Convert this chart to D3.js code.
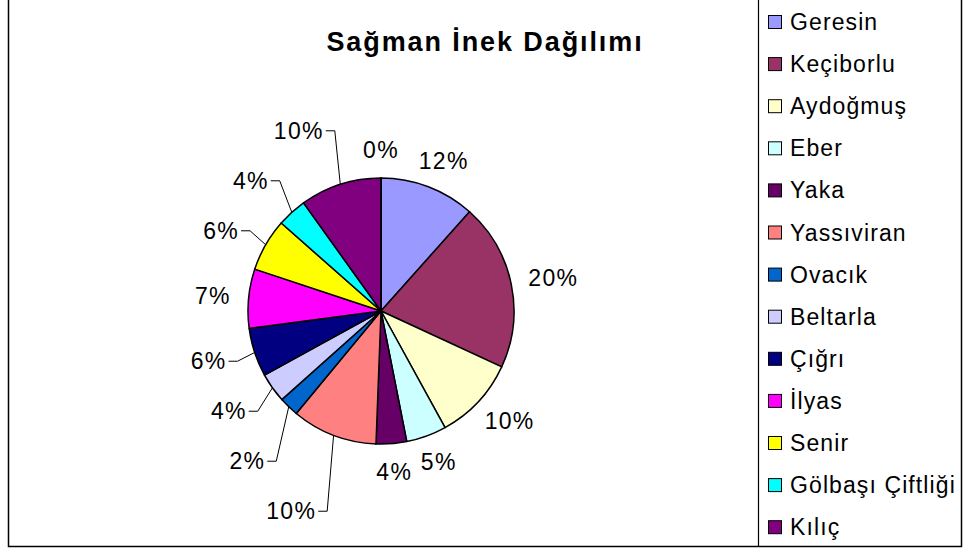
<!DOCTYPE html>
<html>
<head>
<meta charset="utf-8">
<script src="https://cdn.jsdelivr.net/npm/d3@7"></script>
<style>
  body { margin: 0; background: #fff; }
  svg { display: block; font-family: "Liberation Sans", Arial, sans-serif; }
</style>
</head>
<body>
<svg id="chart" width="965" height="549"></svg>
<script>
// köy bazında sağman inek payları (%)
const districts = ['Geresin', 'Keçiborlu', 'Aydoğmuş', 'Eber', 'Yaka', 'Yassıviran', 'Ovacık',
    'Beltarla', 'Çığrı', 'İlyas', 'Senir', 'Gölbaşı Çiftliği', 'Kılıç', ''];
const cows = [11.6, 20.3, 10.1, 4.9, 3.7, 10.4, 2.4, 3.6, 5.9, 7.2, 6.4, 3.6, 9.9, 0];
const colors = ['#9999FF', '#993366', '#FFFFCC', '#CCFFFF', '#660066', '#FF8080', '#0066CC',
    '#CCCCFF', '#000080', '#FF00FF', '#FFFF00', '#00FFFF', '#800080', '#800000'];

const svg = d3.select('#chart');
const cx = 381, cy = 311, r = 133;

// çerçeveler
svg.append('rect').attr('x', 8.5).attr('y', -2).attr('width', 953).attr('height', 548.5)
    .attr('fill', 'none').attr('stroke', '#000').attr('stroke-width', 1.5);
svg.append('line').attr('x1', 758.5).attr('x2', 758.5).attr('y1', 0).attr('y2', 546)
    .attr('stroke', '#000').attr('stroke-width', 1.2);

svg.append('text')
    .attr('x', 485).attr('y', 51)
    .attr('text-anchor', 'middle')
    .style('font-size', '27px').style('font-weight', 'bold')
    .style('letter-spacing', '1.9px')
    .text('Sağman İnek Dağılımı');

const data = districts.map((d, i) => ({ name: d, value: cows[i], color: colors[i] }));
const total = d3.sum(cows);

const pie = d3.pie().value(d => d.value).sort(null);
const arc = d3.arc().innerRadius(0).outerRadius(r);
const arcs = pie(data);

const g = svg.append('g').attr('transform', `translate(${cx},${cy})`);
g.selectAll('path')
    .data(arcs)
    .enter()
    .append('path')
    .attr('d', arc)
    .attr('fill', d => d.data.color)
    .attr('stroke', '#000')
    .attr('stroke-width', 1.5)
    .attr('stroke-linejoin', 'round');

// etiketler
const fmt = v => Math.round(v / total * 100) + '%';
const labelR = r + 18, boxH = 20;

const labels = g.selectAll('text.pct')
    .data(arcs)
    .enter()
    .append('text')
    .attr('class', 'pct')
    .style('font-size', '23px')
    .style('letter-spacing', '1.3px')
    .text(d => fmt(d.data.value));

let items = [];
labels.each(function (d) {
    let a = (d.startAngle + d.endAngle) / 2;
    let s = Math.sin(a), c = Math.cos(a);
    let w = this.getComputedTextLength();
    let px = labelR * s, py = -labelR * c;
    items.push({
        el: this, a: a, s: s, c: c, w: w, px: px, py: py,
        x: px + w / 2 * s, y: py - boxH / 2 * c,
        left: s < -0.1,
        leader: s < -0.1 && Math.abs(c) > 0.2
    });
});

// sol taraftaki etiketleri çakışmaması için merkezden uzağa it
let gap = 50;
let lower = items.filter(d => d.left && d.y > 0).sort((a, b) => a.y - b.y);
for (let i = 1; i < lower.length; i++) {
    lower[i].y = Math.max(lower[i].y, lower[i - 1].y + gap);
}
let upper = items.filter(d => d.left && d.y <= 0).sort((a, b) => b.y - a.y);
for (let i = 1; i < upper.length; i++) {
    upper[i].y = Math.min(upper[i].y, upper[i - 1].y - gap);
}

items.forEach(d => {
    let t = d3.select(d.el);
    if (d.leader) {
        t.attr('text-anchor', 'end').attr('x', d.px - 11).attr('y', d.y + 8);
        let edge = [r * d.s, -r * d.c];
        g.append('polyline')
            .attr('points', [[d.px - 9, d.y], [d.px, d.y], edge].join(' '))
            .attr('fill', 'none')
            .attr('stroke', '#000')
            .attr('stroke-width', 1);
    } else {
        t.attr('text-anchor', 'middle').attr('x', d.x).attr('y', d.y + 8);
    }
});

// lejant
const legend = svg.append('g').attr('transform', 'translate(768,22)');
const row = legend.selectAll('g')
    .data(data)
    .enter()
    .append('g')
    .attr('transform', (d, i) => `translate(0,${i * 42.1})`);

row.append('rect')
    .attr('x', 0.5).attr('y', -6.5)
    .attr('width', 13).attr('height', 13)
    .attr('fill', d => d.color)
    .attr('stroke', '#000')
    .attr('stroke-width', 1);

row.append('text')
    .attr('x', 22).attr('y', 8)
    .style('font-size', '23px')
    .style('letter-spacing', '1.1px')
    .text(d => d.name);
</script>
</body>
</html>
